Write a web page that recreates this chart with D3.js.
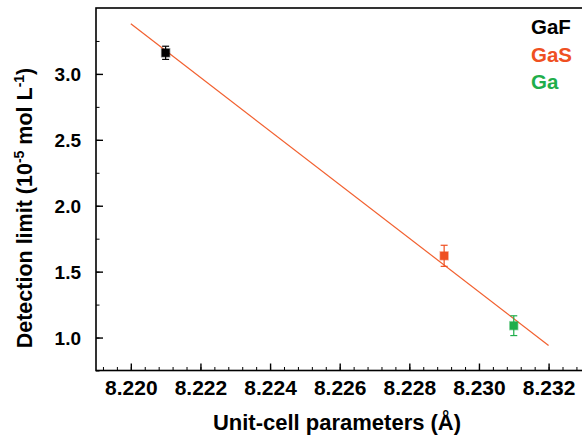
<!DOCTYPE html>
<html>
<head>
<meta charset="utf-8">
<script src="https://cdn.jsdelivr.net/npm/d3@7"></script>
<style>
  html, body { margin: 0; padding: 0; background: #fff; }
  svg { display: block; font-family: "Liberation Sans", Arial, Helvetica, sans-serif; }
</style>
</head>
<body>
<svg id="chart" width="582" height="440"></svg>
<script>
// Samples: unit-cell parameter (Å) vs detection limit (10^-5 mol/L)
const samples = ["GaF", "GaS", "Ga"];
const cellParams = [8.221, 8.229, 8.231];
const detectionLimits = [3.16, 1.62, 1.09];
const errors = [0.05, 0.08, 0.075];
const sampleColors = ["#000000", "#ef5022", "#1fae4b"];

// Linear fit line endpoints
const fitX = [8.220, 8.232];
const fitY = [3.38, 0.94];

// Axis ticks
const xTicks = [8.220, 8.222, 8.224, 8.226, 8.228, 8.230, 8.232];
const yTicks = [1.0, 1.5, 2.0, 2.5, 3.0];

const svg = d3.select("#chart");
const plotLeft = 96, plotRight = 583.4, plotTop = 8, plotBottom = 370.5;

const x = d3.scaleLinear().domain([8.219, 8.233]).range([plotLeft, plotRight]);
const y = d3.scaleLinear().domain([0.75, 3.5]).range([plotBottom, plotTop]);

svg.append("rect").attr("width", 582).attr("height", 440).attr("fill", "#fff");

// minor ticks
const xMinor = d3.range(0, 36).map(i => 8.2192 + i * 0.0004).filter(v => v < 8.233);
const yMinor = d3.range(0, 11).map(i => 0.75 + i * 0.25);

const gxMinor = svg.append("g").attr("transform", `translate(0,${plotBottom})`)
  .call(d3.axisBottom(x).tickValues(xMinor).tickSize(-3.5).tickFormat(""));
const gyMinor = svg.append("g").attr("transform", `translate(${plotLeft},0)`)
  .call(d3.axisLeft(y).tickValues(yMinor).tickSize(-3.5).tickFormat(""));
[gxMinor, gyMinor].forEach(g => {
  g.select(".domain").remove();
  g.selectAll("line").attr("stroke", "#000").attr("stroke-width", 1);
});

// major axes
const gx = svg.append("g").attr("transform", `translate(0,${plotBottom})`)
  .call(d3.axisBottom(x).tickValues(xTicks).tickSize(-7).tickPadding(10).tickFormat(d3.format(".3f")));
const gy = svg.append("g").attr("transform", `translate(${plotLeft},0)`)
  .call(d3.axisLeft(y).tickValues(yTicks).tickSize(-7).tickPadding(15).tickFormat(d3.format(".1f")));
[gx, gy].forEach(g => {
  g.select(".domain").remove();
  g.selectAll("line").attr("stroke", "#000").attr("stroke-width", 1.4);
  g.selectAll("text").attr("fill", "#000").attr("font-weight", "bold")
    .attr("font-family", "'Liberation Sans', Arial, sans-serif");
});
gx.selectAll("text").attr("font-size", 21);
gy.selectAll("text").attr("font-size", 19).attr("dy", "0.36em");

// frame
svg.append("rect")
  .attr("x", plotLeft).attr("y", plotTop)
  .attr("width", plotRight - plotLeft).attr("height", plotBottom - plotTop)
  .attr("fill", "none").attr("stroke", "#000").attr("stroke-width", 1.6);

// fit line
svg.append("path")
  .datum(fitX.map((v, i) => [v, fitY[i]]))
  .attr("d", d3.line().x(d => x(d[0])).y(d => y(d[1])))
  .attr("fill", "none").attr("stroke", "#f2602f").attr("stroke-width", 1.2);

// error bars and markers
const pts = samples.map((s, i) => ({ s, xv: cellParams[i], yv: detectionLimits[i], e: errors[i], c: sampleColors[i] }));
const gp = svg.append("g");
pts.forEach(p => {
  const cx = x(p.xv);
  const g = gp.append("g").attr("stroke", p.c).attr("stroke-width", 1.2);
  g.append("line").attr("x1", cx).attr("x2", cx).attr("y1", y(p.yv + p.e)).attr("y2", y(p.yv - p.e));
  g.append("line").attr("x1", cx - 3.5).attr("x2", cx + 3.5).attr("y1", y(p.yv + p.e)).attr("y2", y(p.yv + p.e));
  g.append("line").attr("x1", cx - 3.5).attr("x2", cx + 3.5).attr("y1", y(p.yv - p.e)).attr("y2", y(p.yv - p.e));
  gp.append("rect")
    .attr("x", cx - 4).attr("y", y(p.yv) - 4).attr("width", 8).attr("height", 8)
    .attr("fill", p.c).attr("stroke", p.c).attr("stroke-opacity", 0.4).attr("stroke-width", 1.5);
});

// legend
const legend = svg.append("g");
samples.forEach((s, i) => {
  legend.append("text")
    .attr("x", 531).attr("y", 34 + i * 27.5)
    .attr("font-size", 20.5).attr("font-weight", "bold")
    .attr("fill", sampleColors[i]).text(s);
});

// axis titles
svg.append("text")
  .attr("x", 337).attr("y", 430)
  .attr("text-anchor", "middle").attr("font-size", 22).attr("font-weight", "bold")
  .text("Unit-cell parameters (Å)");

const yt = svg.append("text")
  .attr("transform", "translate(32,208) rotate(-90)")
  .attr("text-anchor", "middle").attr("font-size", 21.5).attr("font-weight", "bold");
yt.append("tspan").text("Detection limit (10");
yt.append("tspan").attr("font-size", 14).attr("dy", -8).text("-5");
yt.append("tspan").attr("dy", 8).text(" mol L");
yt.append("tspan").attr("font-size", 14).attr("dy", -8).text("-1");
yt.append("tspan").attr("dy", 8).text(")");
</script>
</body>
</html>
